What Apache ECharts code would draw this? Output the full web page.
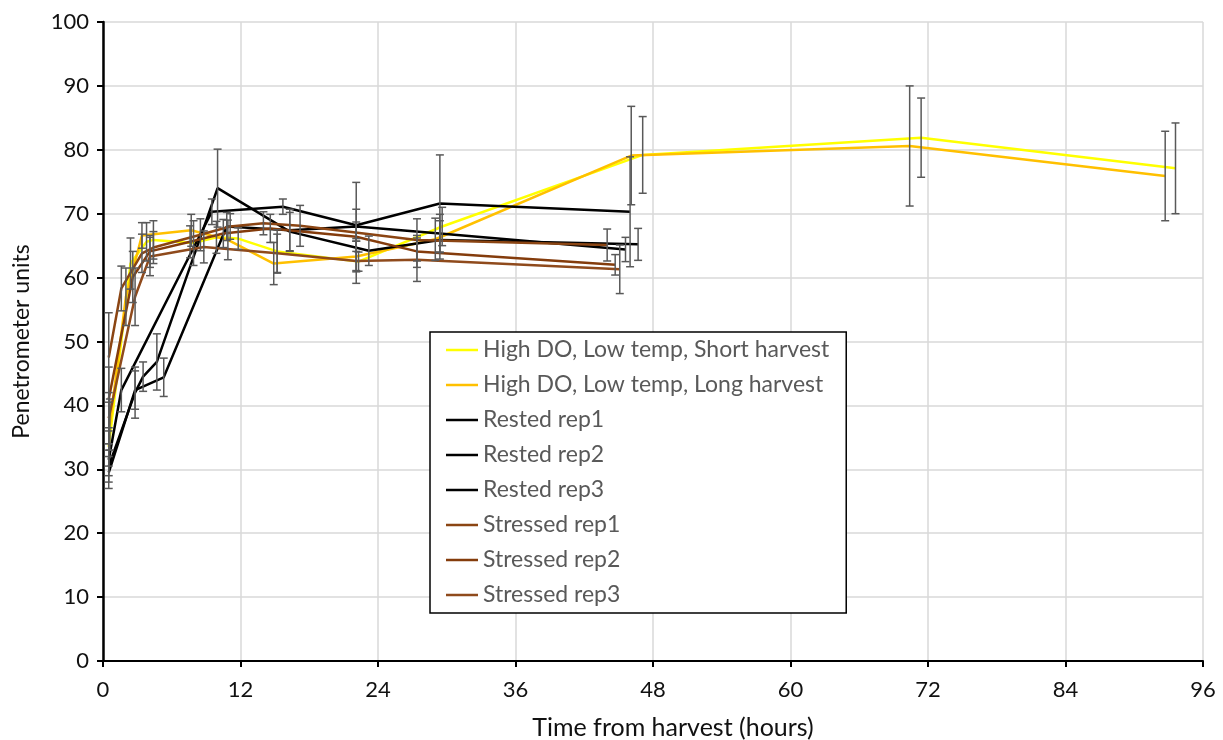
<html>
<head>
<meta charset="utf-8">
<script src="https://cdn.jsdelivr.net/npm/echarts@6/dist/echarts.min.js"></script>
<style>
  html, body { margin: 0; padding: 0; background: #fff; }
  #chart { width: 1223px; height: 740px; }
</style>
<title>Penetrometer units vs time from harvest</title>
</head>
<body>
<div id="chart"></div>
<script>
// series names (legend order)
var names = ['High DO, Low temp, Short harvest', 'High DO, Low temp, Long harvest',
  'Rested rep1', 'Rested rep2', 'Rested rep3',
  'Stressed rep1', 'Stressed rep2', 'Stressed rep3'];
var colors = ['#FFFF00', '#FFC000', '#000000', '#000000', '#000000', '#8B4513', '#843C0C', '#8F4A1C'];

// hours, mean values and +/- error for each series
var shortHours = [0.5, 2.4, 3.8, 4.4, 7.9, 9.9, 11.8, 15.2, 22.3, 29.6, 47.1, 71.4, 93.6];
var shortVals  = [33.5, 62.2, 65.6, 65.9, 65.4, 66.3, 66.1, 64.1, 62.5, 68.0, 79.2, 81.9, 77.1];
var shortErr   = [3, 4, 3, 3, 3.5, 2.5, 1.7, 3.4, 1.5, 3, 6.0, 6.2, 7.1];

var longHours = [0.6, 2.0, 3.4, 7.7, 10.9, 14.9, 22.1, 29.0, 46.1, 70.4, 92.7];
var longVals  = [37, 57, 66.6, 67.4, 65.9, 62.2, 63.3, 66.0, 79.1, 80.6, 75.9];
var longErr   = [4, 4.5, 2, 2.5, 3.1, 3.3, 2.4, 3.3, 7.7, 9.4, 7.0];

var rest1Hours = [0.5, 1.6, 9.5, 15.7, 22.1, 29.4, 46.0];
var rest1Vals  = [31.5, 42.4, 70.3, 71.1, 68.2, 71.6, 70.3];
var rest1Err   = [2.5, 3.4, 2, 1.2, 2.5, 7.6, 8.6];

var rest2Hours = [0.5, 2.8, 3.5, 4.7, 10.0, 16.3, 23.2, 29.4, 46.7];
var rest2Vals  = [30.5, 42.0, 44.5, 46.8, 74.0, 67.2, 64.2, 65.9, 65.2];
var rest2Err   = [2.5, 4, 2.3, 4.4, 6.1, 3, 2.3, 3, 2.5];

var rest3Hours = [0.5, 2.8, 5.3, 10.8, 16.3, 22.1, 29.4, 45.6];
var rest3Vals  = [29.5, 42.4, 44.4, 68.0, 67.4, 68.0, 66.9, 64.4];
var rest3Err   = [2.5, 3, 3, 2.2, 3.3, 6.9, 3, 1.9];

var str1Hours = [0.5, 1.6, 3.4, 4.4, 8.5, 11.1, 14.0, 17.2, 27.4, 44.0];
var str1Vals  = [47.5, 58.3, 63.8, 64.7, 66.7, 68.0, 68.5, 68.1, 65.9, 65.1];
var str1Err   = [7, 3.5, 3, 2.5, 2.5, 2, 1.8, 3.2, 3.3, 2.5];

var str2Hours = [0.5, 2.6, 4.1, 7.6, 10.5, 14.6, 22.1, 27.4, 44.7];
var str2Vals  = [41, 60.1, 64.1, 65.6, 66.9, 67.7, 66.4, 64.1, 62.0];
var str2Err   = [5, 4, 2.5, 2.5, 2.2, 2.2, 2.3, 2.5, 1.6];

var str3Hours = [0.5, 2.8, 4.1, 8.8, 15.2, 22.1, 27.4, 45.1];
var str3Vals  = [38, 57.0, 63.3, 64.8, 63.8, 62.6, 62.8, 61.3];
var str3Err   = [4, 4.5, 3, 2.5, 3, 3.5, 3.4, 3.8];

var xTicks = [0, 12, 24, 36, 48, 60, 72, 84, 96];

var allHours = [shortHours, longHours, rest1Hours, rest2Hours, rest3Hours, str1Hours, str2Hours, str3Hours];
var allVals  = [shortVals, longVals, rest1Vals, rest2Vals, rest3Vals, str1Vals, str2Vals, str3Vals];
var allErr   = [shortErr, longErr, rest1Err, rest2Err, rest3Err, str1Err, str2Err, str3Err];

var FONT = 'Lato';

// draws one vertical error bar with caps
function renderErr(params, api) {
  var x = api.value(0);
  var top = api.coord([x, api.value(2)]);
  var bot = api.coord([x, api.value(1)]);
  var c = 4;
  var st = { stroke: '#595959', lineWidth: 1.5 };
  return {
    type: 'group',
    children: [
      { type: 'line', shape: { x1: top[0], y1: top[1], x2: bot[0], y2: bot[1] }, style: st },
      { type: 'line', shape: { x1: top[0] - c, y1: top[1], x2: top[0] + c, y2: top[1] }, style: st },
      { type: 'line', shape: { x1: bot[0] - c, y1: bot[1], x2: bot[0] + c, y2: bot[1] }, style: st }
    ]
  };
}

var series = [];
for (var i = 0; i < names.length; i++) {
  var pts = [], bars = [];
  for (var j = 0; j < allHours[i].length; j++) {
    pts.push([allHours[i][j], allVals[i][j]]);
    bars.push([allHours[i][j], allVals[i][j] - allErr[i][j], allVals[i][j] + allErr[i][j]]);
  }
  series.push({
    type: 'custom',
    name: names[i] + ' err',
    renderItem: renderErr,
    encode: { x: 0, y: [1, 2] },
    data: bars,
    silent: true,
    z: 3
  });
  series.push({
    type: 'line',
    name: names[i],
    data: pts,
    showSymbol: false,
    symbol: 'none',
    color: colors[i],
    lineStyle: { width: 2.5, color: colors[i] },
    z: 2
  });
}

var chart = echarts.init(document.getElementById('chart'));
chart.setOption({
  animation: false,
  backgroundColor: '#fff',
  textStyle: { fontFamily: FONT },
  grid: { left: 103, right: 20, top: 22, bottom: 79, outerBoundsMode: 'none', containLabel: false },
  xAxis: {
    type: 'value',
    min: 0, max: 96, interval: 12,
    name: 'Time from harvest (hours)',
    nameLocation: 'middle',
    nameGap: 54,
    nameTextStyle: { fontSize: 25, color: '#111', fontFamily: FONT, padding: [0, 0, 0, 40] },
    axisLine: { lineStyle: { color: '#000', width: 2 } },
    axisTick: { show: true, length: 6, lineStyle: { color: '#000', width: 2 } },
    axisLabel: { fontSize: 22, color: '#111', margin: 18, fontFamily: FONT,
      customValues: xTicks },
    splitLine: { lineStyle: { color: '#d9d9d9', width: 1.5 } }
  },
  yAxis: {
    type: 'value',
    min: 0, max: 100, interval: 10,
    name: 'Penetrometer units',
    nameLocation: 'middle',
    nameGap: 70,
    nameTextStyle: { fontSize: 23, color: '#111', fontFamily: FONT },
    axisLine: { show: true, lineStyle: { color: '#000', width: 2.5 } },
    axisTick: { show: true, length: 6, lineStyle: { color: '#000', width: 2 } },
    axisLabel: { fontSize: 22, color: '#111', margin: 14, fontFamily: FONT },
    splitLine: { lineStyle: { color: '#d9d9d9', width: 1.5 } }
  },
  legend: {
    data: names,
    orient: 'vertical',
    left: 430, top: 332,
    padding: [6, 17, 6, 16],
    itemGap: 11,
    itemWidth: 32,
    itemHeight: 2.5,
    icon: 'rect',
    backgroundColor: '#fff',
    borderColor: '#000',
    borderWidth: 1.5,
    textStyle: { fontSize: 23, color: '#595959', fontFamily: FONT, lineHeight: 24 }
  },
  series: series
});
</script>
</body>
</html>
